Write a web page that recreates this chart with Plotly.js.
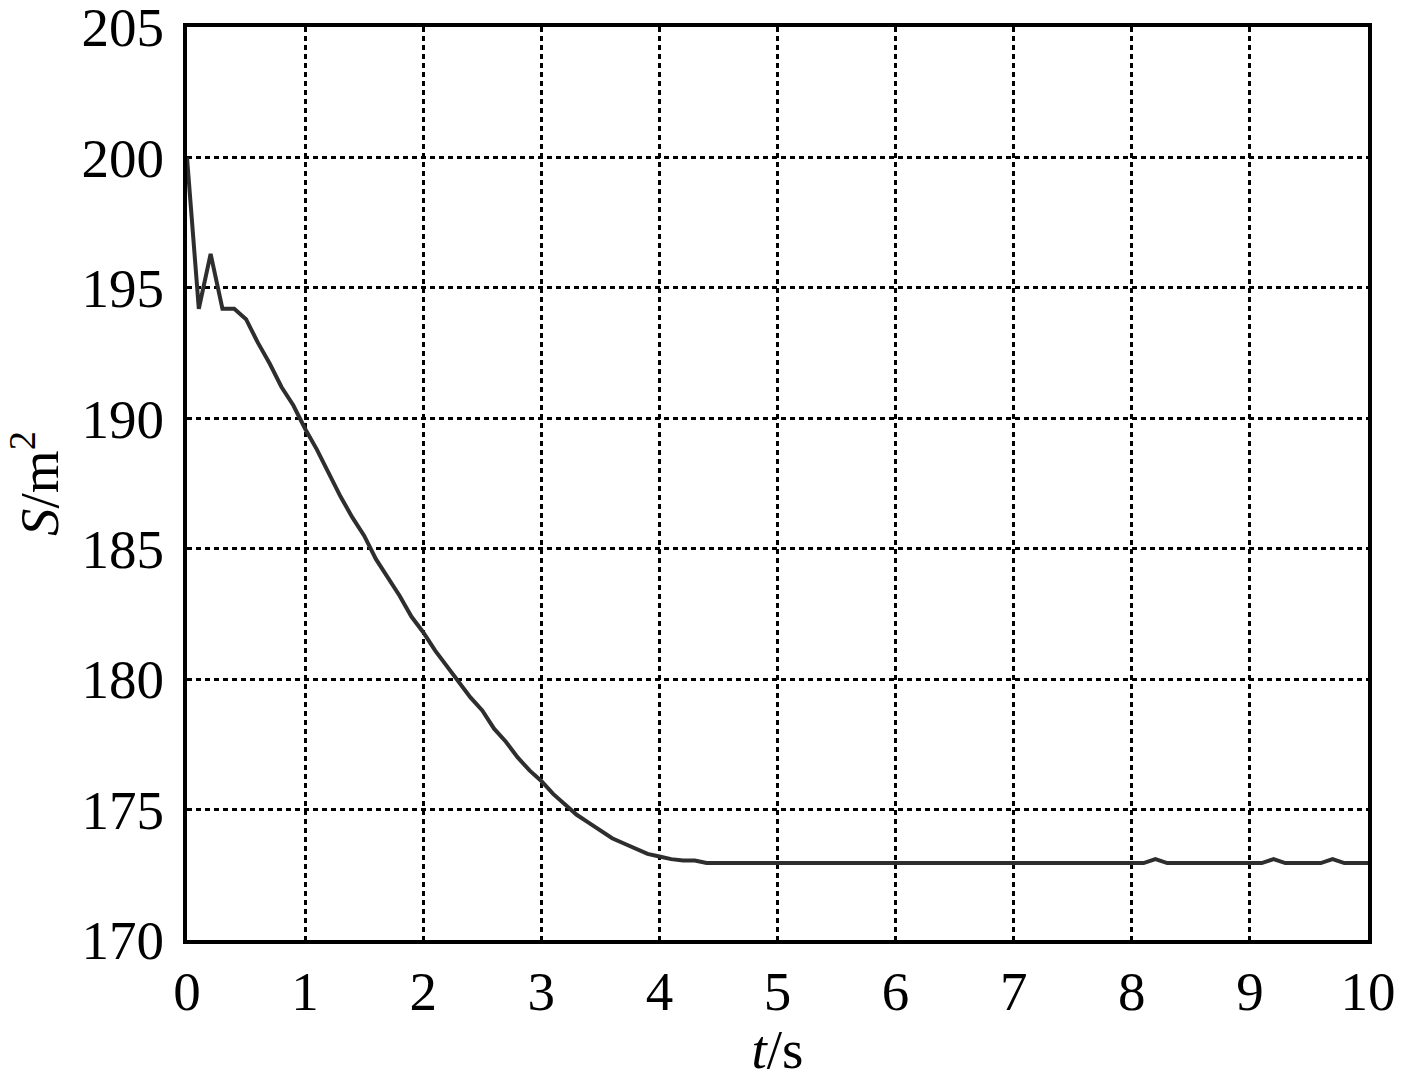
<!DOCTYPE html>
<html>
<head>
<meta charset="utf-8">
<script src="https://cdn.plot.ly/plotly-3.0.1.min.js"></script>
<style>html,body{margin:0;padding:0;background:#fff;}#chart{width:1417px;height:1080px;}</style>
</head>
<body>
<div id="chart"></div>
<script>
const tValues = [0,0.1,0.2,0.3,0.4,0.5,0.6,0.7,0.8,0.9,1.0,1.1,1.2,1.3,1.4,1.5,1.6,1.7,1.8,1.9,2.0,2.1,2.2,2.3,2.4,2.5,2.6,2.7,2.8,2.9,3.0,3.1,3.2,3.3,3.4,3.5,3.6,3.7,3.8,3.9,4.0,4.1,4.2,4.3,4.4,8.1,8.2,8.3,9.1,9.2,9.3,9.6,9.7,9.8,10];
const sValues = [200,194.2,196.3,194.2,194.2,193.8,192.9,192.1,191.2,190.5,189.6,188.8,187.9,187.0,186.2,185.5,184.6,183.9,183.2,182.4,181.8,181.1,180.5,179.9,179.3,178.8,178.1,177.6,177.0,176.5,176.1,175.6,175.2,174.8,174.5,174.2,173.9,173.7,173.5,173.3,173.2,173.1,173.05,173.05,172.95,172.95,173.1,172.95,172.95,173.1,172.95,172.95,173.1,172.95,172.95];
const xTicks = [0,1,2,3,4,5,6,7,8,9,10];
const yTicks = [170,175,180,185,190,195,200,205];

const font = {family: 'Liberation Serif, Times New Roman, serif', size: 55, color: '#000'};

Plotly.newPlot('chart', [{
  x: tValues, y: sValues, type: 'scatter', mode: 'lines',
  line: {color: '#2e2e2e', width: 4}
}], {
  width: 1417, height: 1080,
  margin: {l: 187, r: 49, t: 27, b: 140},
  paper_bgcolor: '#fff', plot_bgcolor: '#fff',
  showlegend: false,
  font: font,
  xaxis: {
    range: [0, 10], tickvals: xTicks, ticktext: xTicks.map(String),
    showgrid: true, gridcolor: '#000', griddash: '5px,4px', gridwidth: 3,
    showline: true, linecolor: '#000', linewidth: 4, mirror: true,
    ticks: '', zeroline: false, tickfont: font, ticklabeloverflow: 'allow',
    title: {text: '<i>t</i>/s', font: font, standoff: 4}
  },
  yaxis: {
    range: [170, 205], tickvals: yTicks, ticktext: yTicks.map(String),
    showgrid: true, gridcolor: '#000', griddash: '5px,4px', gridwidth: 3,
    showline: true, linecolor: '#000', linewidth: 4, mirror: true,
    ticks: '', zeroline: false, tickfont: font, ticklabeloverflow: 'allow',
    ticklabelstandoff: 8,
    title: {text: '<i>S</i>/m<sup>2</sup>', font: font, standoff: 6}
  }
}, {displayModeBar: false, staticPlot: true});
</script>
</body>
</html>
